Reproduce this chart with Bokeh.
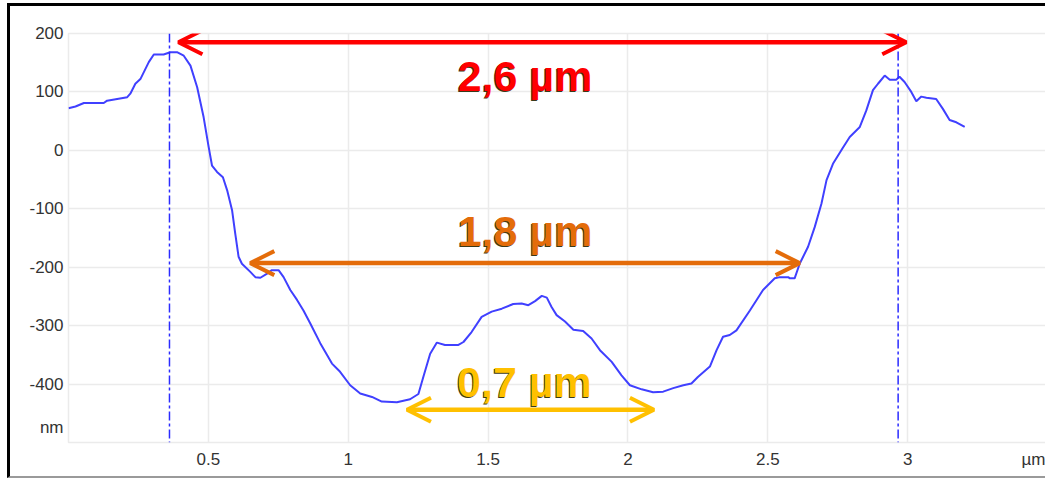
from bokeh.plotting import figure
from bokeh.models import Arrow, OpenHead, Span, Label, FixedTicker, Range1d
from bokeh.embed import file_html
from bokeh.resources import INLINE

# ---- data ----
profile_x = [0.00, 0.025, 0.055, 0.126, 0.138, 0.174, 0.21, 0.221, 0.239, 0.257, 0.287, 0.305,
             0.34, 0.364, 0.388, 0.412, 0.436, 0.46, 0.483, 0.501, 0.513, 0.531, 0.552, 0.567,
             0.585, 0.596, 0.608, 0.62, 0.65, 0.668, 0.686, 0.71, 0.727, 0.751, 0.769, 0.793,
             0.817, 0.84, 0.864, 0.9, 0.942, 0.971, 1.007, 1.043, 1.085, 1.12, 1.174, 1.221,
             1.251, 1.269, 1.293, 1.317, 1.346, 1.394, 1.412, 1.441, 1.477, 1.513, 1.549, 1.59,
             1.62, 1.644, 1.668, 1.692, 1.71, 1.727, 1.745, 1.775, 1.805, 1.84, 1.87, 1.9,
             1.942, 1.977, 2.007, 2.049, 2.09, 2.126, 2.162, 2.198, 2.227, 2.25, 2.293, 2.317,
             2.34, 2.364, 2.388, 2.436, 2.483, 2.525, 2.543, 2.573, 2.579, 2.596, 2.614, 2.644,
             2.668, 2.692, 2.71, 2.733, 2.769, 2.793, 2.829, 2.852, 2.876, 2.894, 2.918, 2.936,
             2.959, 2.971, 2.989, 3.013, 3.031, 3.049, 3.067, 3.102, 3.126, 3.15, 3.174, 3.204]
profile_y = [72, 75, 81, 81, 85, 88, 91, 97, 114, 122, 151, 164,
             164, 168, 168, 162, 145, 108, 57, 6, -26, -37, -46, -68,
             -103, -142, -182, -194, -208, -217, -218, -211, -205, -205, -217, -239,
             -256, -274, -296, -330, -365, -379, -402, -416, -422, -430, -431, -426,
             -417, -387, -348, -329, -333, -333, -328, -311, -285, -276, -271, -263,
             -262, -265, -258, -249, -252, -268, -282, -293, -307, -309, -322, -342,
             -362, -385, -402, -409, -414, -413, -407, -402, -399, -388, -370, -342,
             -319, -316, -308, -274, -239, -219, -217, -217, -219, -219, -194, -165,
             -131, -91, -51, -23, 5, 23, 40, 68, 103, 114, 128, 121,
             121, 126, 117, 100, 84, 92, 90, 88, 71, 52, 48, 40]

x_ticks = [0.5, 1, 1.5, 2, 2.5, 3]
y_ticks = [-400, -300, -200, -100, 0, 100, 200]
y_tick_labels = ["-400", "-300", "-200", "-100", "0", "100", "200"]
x_unit = "µm"
y_unit = "nm"
x_unit_at = 3.47
y_unit_at = -475

marker_x = [0.361, 2.966]

meas_text = ["2,6 µm", "1,8 µm", "0,7 µm"]
meas_x0 = [0.393, 0.65, 1.21]
meas_x1 = [2.995, 2.614, 2.093]
meas_y = [185, -193, -444]
meas_text_x = [1.632, 1.632, 1.63]
meas_text_y = [128, -138, -397]
meas_colors = ["#FF0000", "#E46C0A", "#FFC000"]

# ---- figure ----
W, H = 1038, 475
p = figure(width=W, height=H, x_range=Range1d(0, 3.5), y_range=Range1d(-500, 200),
           output_backend="svg", toolbar_location=None,
           min_border_left=58, min_border_right=1, min_border_top=27, min_border_bottom=39)
p.margin = (3, 0, 0, 7)
p.styles = {"border-top": "3px solid black", "border-left": "3px solid black",
            "border-bottom": "2px solid #9a9a9a", "overflow": "hidden"}
p.background_fill_color = "white"
p.border_fill_color = "white"
p.outline_line_color = "#ebebeb"
p.outline_line_width = 1.5

p.xaxis.ticker = FixedTicker(ticks=x_ticks + [x_unit_at])
p.yaxis.ticker = FixedTicker(ticks=[y_unit_at] + y_ticks)
p.xaxis.major_label_overrides = {x_unit_at: x_unit}
y_over = {v: s for v, s in zip(y_ticks, y_tick_labels)}
y_over[y_unit_at] = y_unit
p.yaxis.major_label_overrides = y_over
for ax in (p.xaxis[0], p.yaxis[0]):
    ax.axis_line_color = None
    ax.major_tick_line_color = None
    ax.minor_tick_line_color = None
    ax.major_tick_out = 0
    ax.major_tick_in = 0
    ax.minor_tick_out = 0
    ax.major_label_text_font = "Liberation Sans"
    ax.major_label_text_font_size = "17px"
    ax.major_label_text_color = "#333333"
p.xaxis.major_label_standoff = 7
p.yaxis.major_label_standoff = 5

p.xgrid.ticker = FixedTicker(ticks=x_ticks)
p.ygrid.ticker = FixedTicker(ticks=y_ticks)
p.grid.grid_line_color = "#ebebeb"
p.grid.grid_line_width = 1.5

# profile
p.line(profile_x, profile_y, line_color="#4040ff", line_width=2)

for mx in marker_x:
    p.add_layout(Span(location=mx, dimension="height", line_color="#2b2bff",
                      line_width=1.5, line_dash="9 3 3 3"))

for t, x0, x1, y, tx, ty, c in zip(meas_text, meas_x0, meas_x1, meas_y, meas_text_x, meas_text_y, meas_colors):
    p.add_layout(Arrow(x_start=x0, y_start=y, x_end=x1, y_end=y,
                       start=OpenHead(size=24, line_color=c, line_width=4),
                       end=OpenHead(size=24, line_color=c, line_width=4),
                       line_color=c, line_width=4.5))
    p.add_layout(Label(x=tx, y=ty, text=t, text_align="center", text_baseline="alphabetic",
                       x_offset=-1, y_offset=-1,
                       text_font="Liberation Sans", text_font_style="bold", text_font_size="43px",
                       text_color="#3a3a1a"))
    p.add_layout(Label(x=tx, y=ty, text=t, text_align="center", text_baseline="alphabetic",
                       text_font="Liberation Sans", text_font_style="bold", text_font_size="43px",
                       text_color=c))

open("out.html", "w").write(file_html(p, INLINE))
